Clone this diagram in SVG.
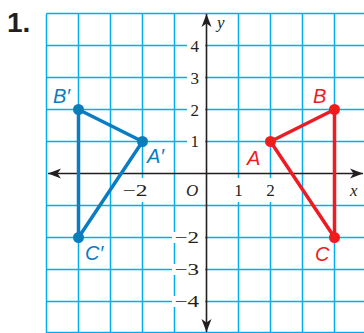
<svg xmlns="http://www.w3.org/2000/svg" width="364" height="333" viewBox="0 0 364 333">
<style>
.grid line{stroke:#00AEEF;stroke-width:1.5}
.axis{stroke:#231F20;stroke-width:1.6;fill:none}
.num{font-family:"Liberation Serif","Times New Roman",serif;font-size:17px;fill:#231F20}
.it{font-style:italic}
.mask{fill:#fff}
.red{stroke:#ED1C24;stroke-width:3.5;fill:none;stroke-linejoin:round}
.blue{stroke:#0A7CC1;stroke-width:3.5;fill:none;stroke-linejoin:round}
.rlab{font-family:"Liberation Sans",Arial,sans-serif;font-style:italic;font-size:20px;fill:#ED1C24}
.blab{font-family:"Liberation Sans",Arial,sans-serif;font-style:italic;font-size:20px;fill:#0A7CC1}
</style>
<defs>
<marker id="arr" markerUnits="userSpaceOnUse" markerWidth="14" markerHeight="12" viewBox="-13 -6 14 12" refX="0" refY="0" orient="auto-start-reverse">
<path d="M0,0 L-13,-5 L-9.5,0 L-13,5 Z" fill="#231F20"/>
</marker>
</defs>
<rect width="364" height="333" fill="#fff"/>
<text x="7" y="32" font-family="Liberation Sans,Arial,sans-serif" font-weight="bold" font-size="28" fill="#231F20">1.</text>
<g id="grid" class="grid">
<line x1="46.5" y1="13.5" x2="46.5" y2="333"/>
<line x1="78.5" y1="13.5" x2="78.5" y2="333"/>
<line x1="110.5" y1="13.5" x2="110.5" y2="333"/>
<line x1="142.5" y1="13.5" x2="142.5" y2="333"/>
<line x1="174.5" y1="13.5" x2="174.5" y2="333"/>
<line x1="238.5" y1="13.5" x2="238.5" y2="333"/>
<line x1="270.5" y1="13.5" x2="270.5" y2="333"/>
<line x1="302.5" y1="13.5" x2="302.5" y2="333"/>
<line x1="334.5" y1="13.5" x2="334.5" y2="333"/>
<line x1="46.5" y1="13.5" x2="364" y2="13.5"/>
<line x1="46.5" y1="45.5" x2="364" y2="45.5"/>
<line x1="46.5" y1="77.5" x2="364" y2="77.5"/>
<line x1="46.5" y1="109.5" x2="364" y2="109.5"/>
<line x1="46.5" y1="141.5" x2="364" y2="141.5"/>
<line x1="46.5" y1="205.5" x2="364" y2="205.5"/>
<line x1="46.5" y1="237.5" x2="364" y2="237.5"/>
<line x1="46.5" y1="269.5" x2="364" y2="269.5"/>
<line x1="46.5" y1="301.5" x2="364" y2="301.5"/>
<line x1="46.5" y1="332.5" x2="364" y2="332.5"/>
</g>
<g id="tick-labels">
<rect class="mask" x="187" y="40" width="18" height="11"/>
<rect class="mask" x="187" y="72" width="18" height="11"/>
<rect class="mask" x="187" y="104" width="18" height="11"/>
<rect class="mask" x="187" y="136" width="18" height="11"/>
<rect class="mask" x="172" y="232" width="33" height="11"/>
<rect class="mask" x="172" y="264" width="33" height="11"/>
<rect class="mask" x="172" y="296" width="33" height="11"/>
<rect class="mask" x="121" y="178" width="30" height="24"/>
<rect class="mask" x="231" y="178" width="15" height="24"/>
<rect class="mask" x="263" y="178" width="15" height="24"/>
<text class="num" x="199" y="52" text-anchor="end">4</text>
<text class="num" x="199" y="84" text-anchor="end">3</text>
<text class="num" x="199" y="116" text-anchor="end">2</text>
<text class="num" x="199" y="147" text-anchor="end">1</text>
<text class="num" x="174.5" y="243" textLength="24.5" lengthAdjust="spacingAndGlyphs">−2</text>
<text class="num" x="174.5" y="275" textLength="24.5" lengthAdjust="spacingAndGlyphs">−3</text>
<text class="num" x="174.5" y="307" textLength="24.5" lengthAdjust="spacingAndGlyphs">−4</text>
<text class="num" x="122.5" y="196" textLength="25" lengthAdjust="spacingAndGlyphs">−2</text>
<text class="num" x="238.5" y="196" text-anchor="middle">1</text>
<text class="num" x="270.5" y="196" text-anchor="middle">2</text>
<text class="num it" x="186" y="196">O</text>
<text class="num it" x="350" y="196" font-size="18">x</text>
<text class="num it" x="217" y="28" font-size="18">y</text>
</g>
<g id="axes">
<line class="axis" x1="48" y1="173.5" x2="363" y2="173.5" marker-start="url(#arr)" marker-end="url(#arr)"/>
<line class="axis" x1="206.5" y1="14" x2="206.5" y2="332" marker-start="url(#arr)" marker-end="url(#arr)"/>
</g>
<g id="connectors">
<polygon class="red" points="270.5,141.5 334.5,109.5 334.5,237.5"/>
<polygon class="blue" points="142.5,141.5 78.5,109.5 78.5,237.5"/>
</g>
<g id="A"><circle cx="270.5" cy="141.5" r="5.5" fill="#ED1C24"/><text class="rlab" x="247" y="165">A</text></g>
<g id="B"><circle cx="334.5" cy="109.5" r="5.5" fill="#ED1C24"/><text class="rlab" x="313" y="103">B</text></g>
<g id="C"><circle cx="334.5" cy="237.5" r="5.5" fill="#ED1C24"/><text class="rlab" x="315" y="261">C</text></g>
<g id="A-prime"><circle cx="142.5" cy="141.5" r="5.5" fill="#0A7CC1"/><text class="blab" x="147" y="163">A′</text></g>
<g id="B-prime"><circle cx="78.5" cy="109.5" r="5.5" fill="#0A7CC1"/><text class="blab" x="53" y="103">B′</text></g>
<g id="C-prime"><circle cx="78.5" cy="237.5" r="5.5" fill="#0A7CC1"/><text class="blab" x="85" y="260">C′</text></g>
</svg>
